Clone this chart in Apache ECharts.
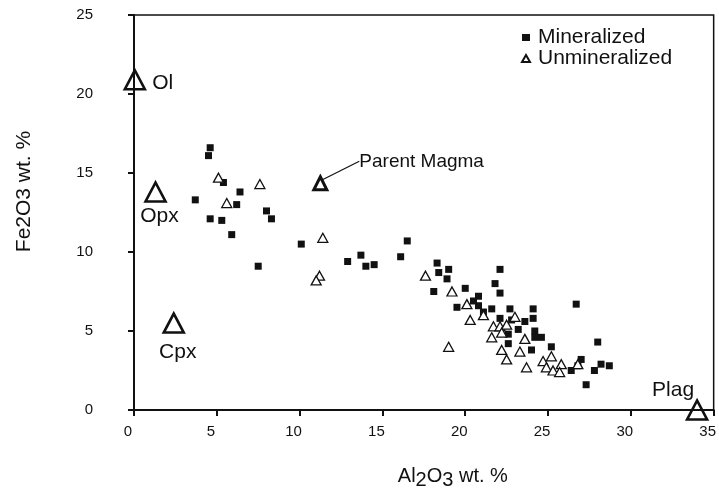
<!DOCTYPE html>
<html>
<head>
<meta charset="utf-8">
<script src="https://cdn.jsdelivr.net/npm/echarts@6/dist/echarts.min.js"></script>
<style>
html,body{margin:0;padding:0;background:#fff;}
#main{width:719px;height:498px;}
</style>
</head>
<body>
<div id="main"></div>
<script>
// tick values
var xTicks = [0, 5, 10, 15, 20, 25, 30, 35];
var yTicks = [0, 5, 10, 15, 20, 25];

// Al2O3, Fe2O3 pairs
var mineralized = [
    [4.6,16.6],[4.5,16.1],[5.4,14.4],[6.4,13.8],[3.7,13.3],[6.2,13.0],[8.0,12.6],[8.3,12.1],
    [4.6,12.1],[5.3,12.0],[5.9,11.1],[7.5,9.1],[10.1,10.5],
    [12.9,9.4],[13.7,9.8],[14.0,9.1],[14.5,9.2],[16.5,10.7],[16.1,9.7],[18.3,9.3],[18.4,8.7],
    [19.0,8.9],[18.9,8.3],[18.1,7.5],[20.0,7.7],[19.5,6.5],
    [22.1,8.9],[21.8,8.0],[22.1,7.4],[20.8,7.2],[20.5,6.9],[20.8,6.6],[21.1,6.2],[21.6,6.4],
    [22.7,6.4],[22.8,5.7],[22.1,5.8],[24.1,6.4],[24.1,5.8],[23.6,5.6],[23.2,5.1],[22.6,4.8],
    [22.6,4.2],[24.2,5.0],[24.2,4.6],[24.6,4.6],[24.0,3.8],[25.2,4.0],[26.7,6.7],[26.4,2.5],
    [28.0,4.3],[27.0,3.2],[26.8,2.8],[27.8,2.5],[28.2,2.9],[28.7,2.8],[27.3,1.6]
];
var unmineralized = [
    [5.1,14.7],[7.6,14.3],[5.6,13.1],[11.4,10.9],[11.2,8.5],[11.0,8.2],[17.6,8.5],[19.2,7.5],
    [19.0,4.0],[20.1,6.7],[20.3,5.7],[21.1,6.0],[21.7,5.3],[22.1,5.3],[22.5,5.4],[23.0,5.9],
    [21.6,4.6],[22.2,4.9],[22.2,3.8],[22.5,3.2],[23.6,4.5],[23.3,3.7],[23.7,2.7],[24.7,3.1],
    [25.2,3.4],[24.9,2.7],[25.3,2.5],[25.8,2.9],[25.7,2.4],[26.8,2.9]
];

// end members
var endNames = ['Ol', 'Opx', 'Cpx', 'Plag'];
var endValues = [[0.05,20.9],[1.3,13.8],[2.4,5.5],[34.0,0.0]];
var parentName = 'Parent Magma';
var parentValue = [11.25,14.35];

var ink = '#111';
var font = "'Liberation Sans', Arial, sans-serif";

var endLabelPos = {
    'Ol':   {position:'right', distance:6, offset:[0,3]},
    'Opx':  {position:'bottom', distance:3, offset:[4,0]},
    'Cpx':  {position:'bottom', distance:3, offset:[4,5]},
    'Plag': {position:'top', distance:0, offset:[-24,1]}
};

var dom = document.getElementById('main');
var myChart = echarts.init(dom);

var subRich = {
    n: {fontSize: 20, fontFamily: font, color: ink},
    s: {fontSize: 20, fontFamily: font, color: ink, padding: [8,0,0,0]}
};

option = {
    backgroundColor: '#fff',
    animation: false,
    grid: {
        left: 134,
        right: 5,
        top: 15,
        bottom: 88,
        show: true,
        borderColor: ink,
        borderWidth: 1.5
    },
    legend: {
        orient: 'vertical',
        left: 516,
        top: 22,
        itemWidth: 8,
        itemHeight: 7,
        itemGap: 0,
        textStyle: {fontSize: 21, fontFamily: font, color: ink, padding: [0,0,0,3]},
        data: [
            {name: 'Mineralized', icon: 'rect'},
            {name: 'Unmineralized', icon: 'triangle'}
        ]
    },
    xAxis: {
        type: 'value',
        min: 0,
        max: 35,
        interval: 5,
        name: '{n|Al}{s|2}{n|O}{s|3}{n| wt. %}',
        nameLocation: 'middle',
        nameGap: 52,
        nameTextStyle: {rich: subRich, padding: [0,0,0,58]},
        splitLine: {show: false},
        axisLine: {lineStyle: {color: ink, width: 2}},
        axisTick: {length: 6, lineStyle: {color: ink, width: 2}},
        axisLabel: {
            fontSize: 15, fontFamily: font, color: ink, margin: 14,
            padding: [0,12,0,0]
        }
    },
    yAxis: {
        type: 'value',
        min: 0,
        max: 25,
        interval: 5,
        name: 'Fe2O3 wt. %',
        nameLocation: 'middle',
        nameGap: 99,
        nameRotate: 90,
        nameTextStyle: {fontSize: 21, fontFamily: font, color: ink, padding: [0,0,0,42]},
        splitLine: {show: false},
        axisLine: {lineStyle: {color: ink, width: 2}},
        axisTick: {length: 6, lineStyle: {color: ink, width: 2}},
        axisLabel: {fontSize: 15, fontFamily: font, color: ink, margin: 41}
    },
    series: [
        {
            name: 'Mineralized',
            type: 'scatter',
            symbol: 'rect',
            symbolSize: 7,
            itemStyle: {color: ink, opacity: 1},
            data: mineralized
        },
        {
            name: 'Unmineralized',
            type: 'scatter',
            symbol: 'triangle',
            symbolSize: [10,9],
            itemStyle: {color: '#fff', borderColor: ink, borderWidth: 1.3, opacity: 1},
            data: unmineralized
        },
        {
            name: 'End members',
            type: 'scatter',
            symbol: 'triangle',
            symbolSize: [20,19],
            itemStyle: {color: 'rgba(255,255,255,0)', borderColor: ink, borderWidth: 2.6, opacity: 1},
            label: {show: true, formatter: '{b}', fontSize: 21, fontFamily: font, color: ink},
            data: endNames.map(function (n, i) {
                return {name: n, value: endValues[i], label: endLabelPos[n]};
            })
        },
        {
            name: 'Parent',
            type: 'scatter',
            symbol: 'triangle',
            symbolSize: [13,13],
            itemStyle: {color: 'rgba(255,255,255,0)', borderColor: ink, borderWidth: 3, opacity: 1},
            label: {show: true, formatter: '{b}', position: 'right', fontSize: 19, fontFamily: font, color: ink},
            labelLayout: {dx: 26, dy: -22},
            labelLine: {show: true, lineStyle: {color: ink, width: 1.2, opacity: 1}},
            data: [{name: parentName, value: parentValue}]
        }
    ]
};

if (option && typeof option === 'object') {
    myChart.setOption(option, true);
}
</script>
</body>
</html>
